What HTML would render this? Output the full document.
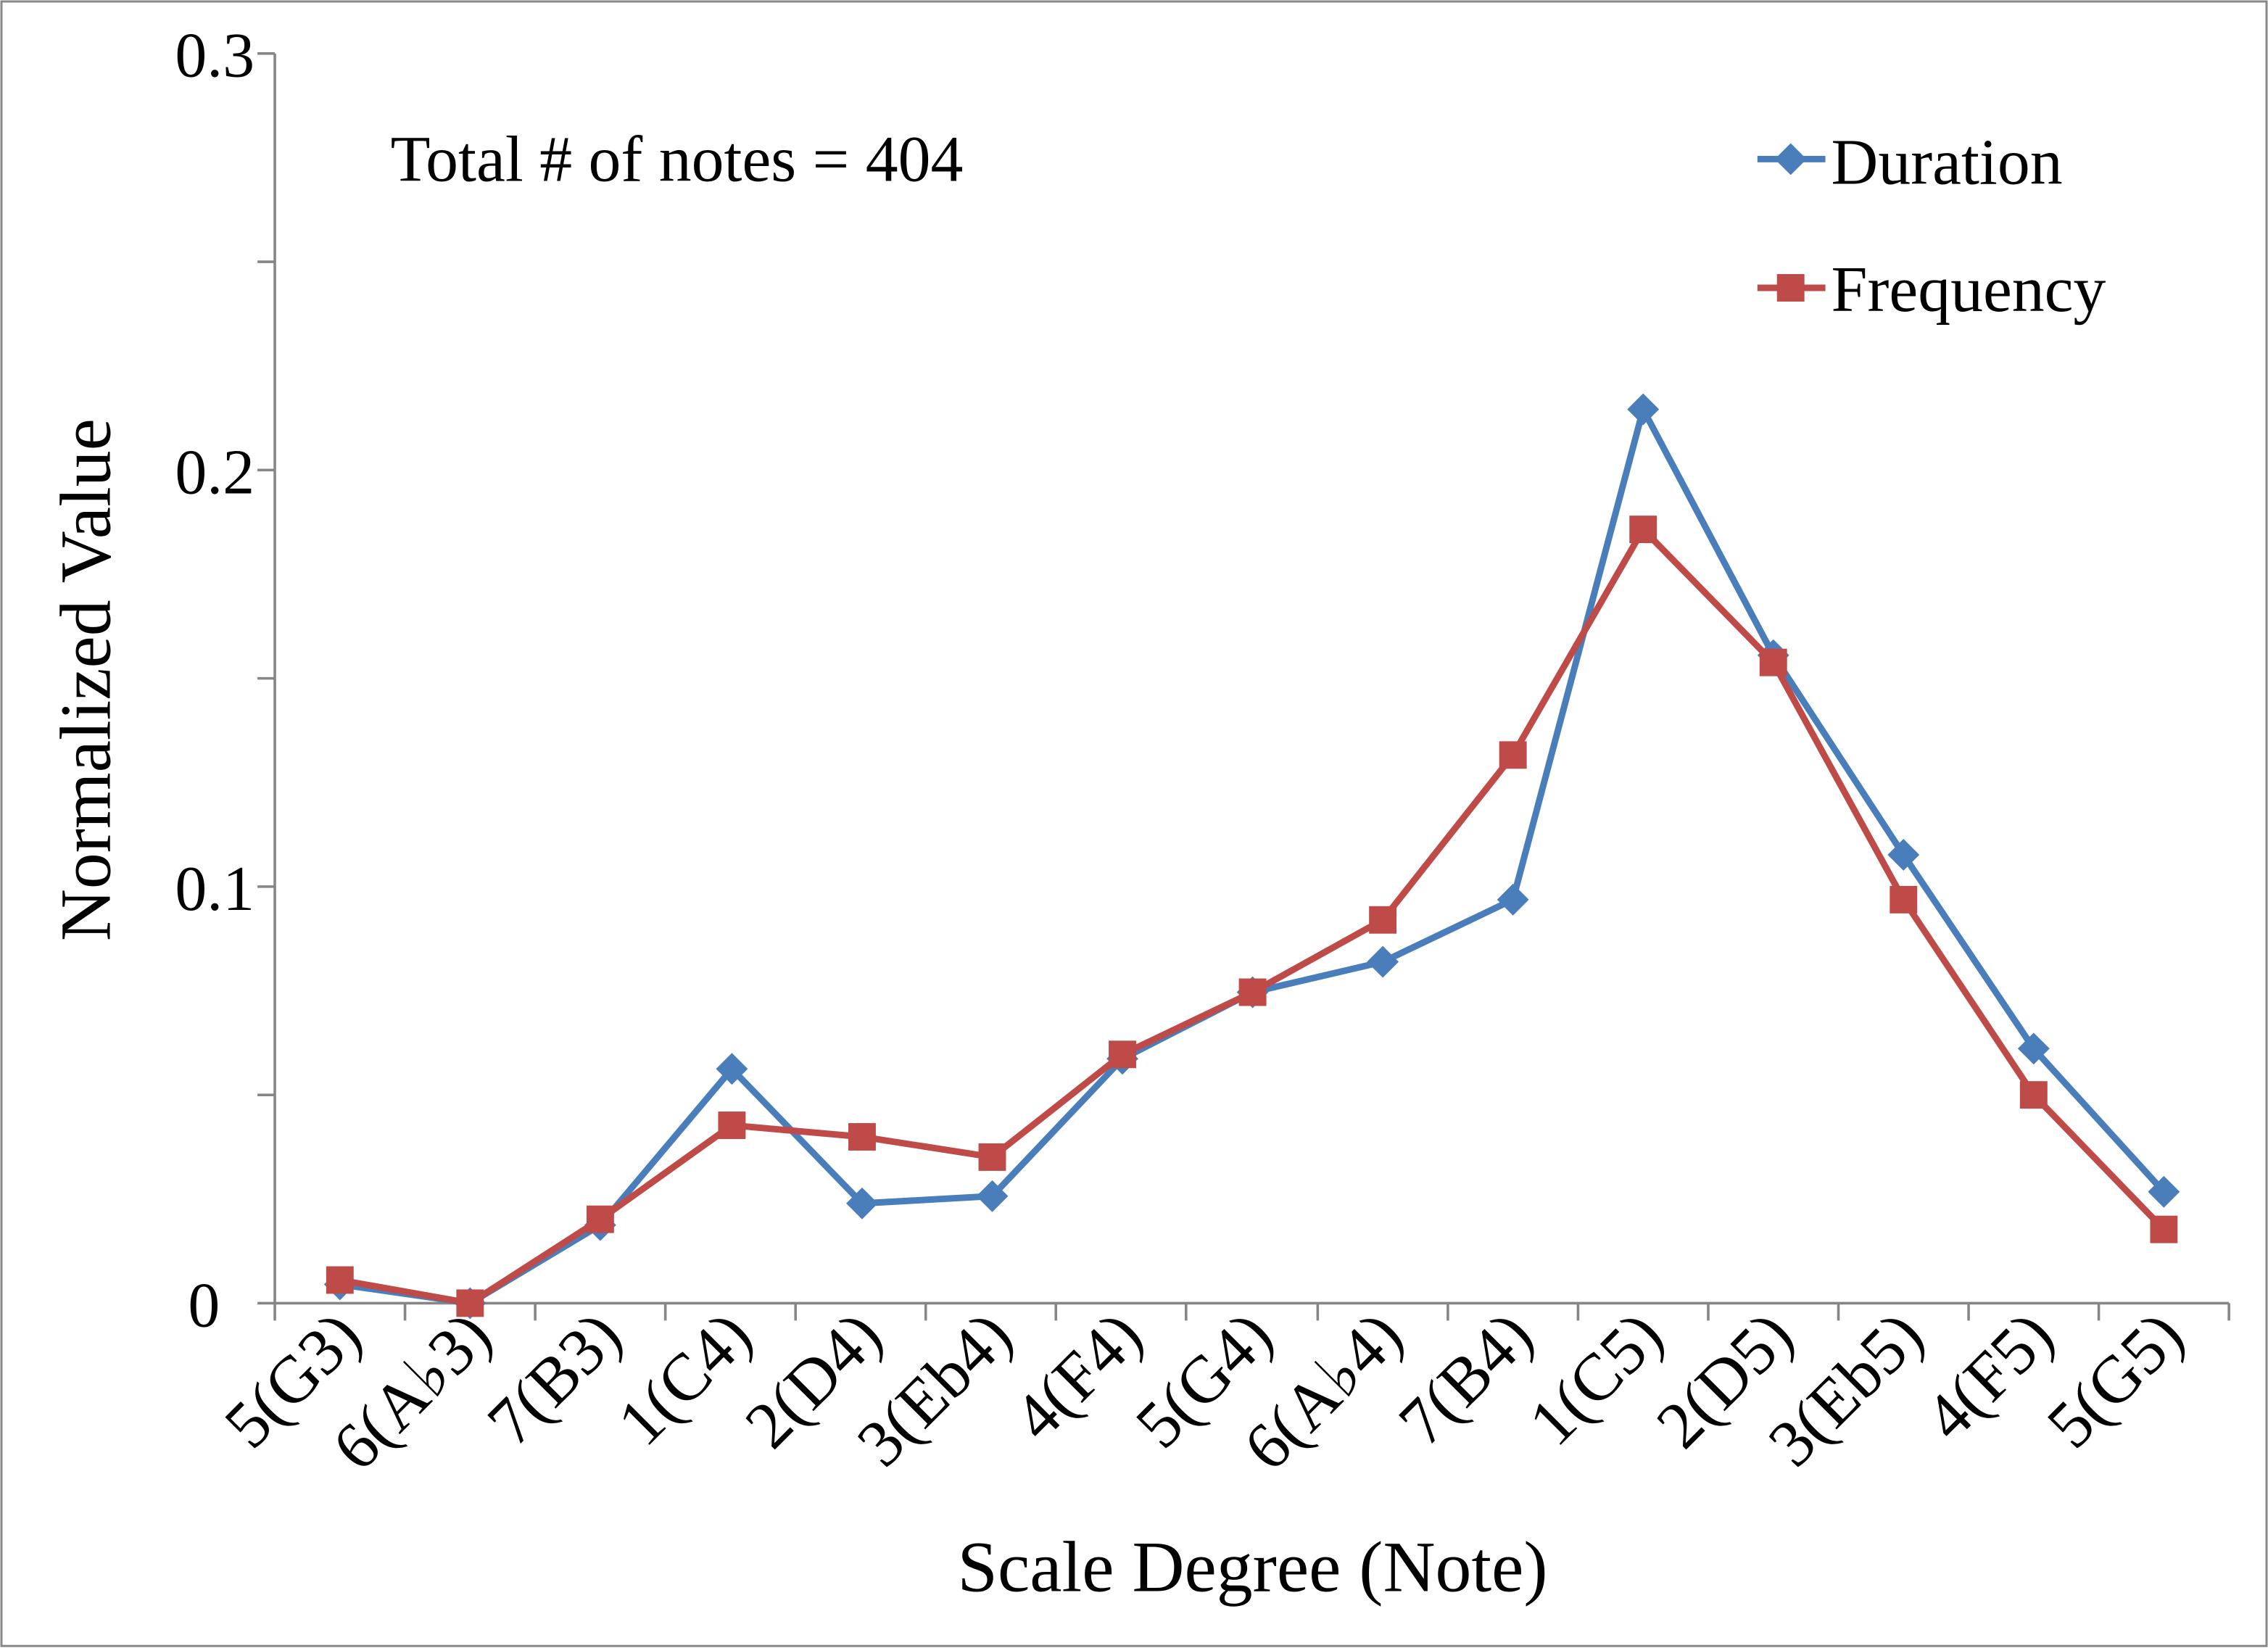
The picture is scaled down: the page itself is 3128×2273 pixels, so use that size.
<!DOCTYPE html>
<html><head><style>html,body{margin:0;padding:0;background:#fff}svg{display:block}</style></head><body>
<svg width="3128" height="2273" viewBox="0 0 1568 1139.4" xmlns="http://www.w3.org/2000/svg" font-family="Liberation Serif, serif">
<rect x="1" y="1" width="1566" height="1137" fill="#fff" stroke="#888" stroke-width="1.5"/>
<g stroke="#868686" stroke-width="1.8" fill="none">
<line x1="190" y1="37" x2="190" y2="901"/>
<line x1="178" y1="901" x2="1541" y2="901"/>
<line x1="178" y1="37" x2="190" y2="37"/>
<line x1="178" y1="181" x2="190" y2="181"/>
<line x1="178" y1="325" x2="190" y2="325"/>
<line x1="178" y1="469" x2="190" y2="469"/>
<line x1="178" y1="613" x2="190" y2="613"/>
<line x1="178" y1="757" x2="190" y2="757"/>
<path d="M190 901v12M280 901v12M370 901v12M460 901v12M550 901v12M640 901v12M730 901v12M820 901v12M911 901v12M1001 901v12M1091 901v12M1181 901v12M1271 901v12M1361 901v12M1451 901v12M1541 901v12"/>
</g>
<g font-size="44" text-anchor="end">
<text x="176" y="53">0.3</text><text x="176" y="341">0.2</text><text x="176" y="629">0.1</text><text x="152" y="917">0</text>
</g>
<text transform="translate(76,470) rotate(-90)" font-size="50" text-anchor="middle">Normalized Value</text>
<text x="866" y="1100" font-size="50" text-anchor="middle">Scale Degree (Note)</text>
<text x="270" y="125" font-size="45">Total # of notes = 404</text>
<g font-size="46" text-anchor="end">
<text transform="translate(252,926) rotate(-45)">5(G3)</text>
<text transform="translate(342,926) rotate(-45)">6(A♭3)</text>
<text transform="translate(432,926) rotate(-45)">7(B3)</text>
<text transform="translate(522,926) rotate(-45)">1(C4)</text>
<text transform="translate(612,926) rotate(-45)">2(D4)</text>
<text transform="translate(702,926) rotate(-45)">3(Eb4)</text>
<text transform="translate(792,926) rotate(-45)">4(F4)</text>
<text transform="translate(882,926) rotate(-45)">5(G4)</text>
<text transform="translate(972,926) rotate(-45)">6(A♭4)</text>
<text transform="translate(1062,926) rotate(-45)">7(B4)</text>
<text transform="translate(1152,926) rotate(-45)">1(C5)</text>
<text transform="translate(1242,926) rotate(-45)">2(D5)</text>
<text transform="translate(1332,926) rotate(-45)">3(Eb5)</text>
<text transform="translate(1422,926) rotate(-45)">4(F5)</text>
<text transform="translate(1512,926) rotate(-45)">5(G5)</text>
</g>
<defs>
<path id="d" d="M0 -11L11 0L0 11L-11 0Z" fill="#4a7ebb"/>
<rect id="s" x="-9.5" y="-9.5" width="19" height="19" fill="#be4b48"/>
</defs>
<polyline fill="none" stroke="#4a7ebb" stroke-width="4.5" points="235,888 325,901 415,847 506,739 596,832 686,827 776,732 866,686 956,665 1046,622 1136,283 1226,453 1316,591 1406,725 1496,824"/>
<g>
<use href="#d" x="235" y="888"/><use href="#d" x="325" y="901"/><use href="#d" x="415" y="847"/><use href="#d" x="506" y="739"/><use href="#d" x="596" y="832"/><use href="#d" x="686" y="827"/><use href="#d" x="776" y="732"/><use href="#d" x="866" y="686"/><use href="#d" x="956" y="665"/><use href="#d" x="1046" y="622"/><use href="#d" x="1136" y="283"/><use href="#d" x="1226" y="453"/><use href="#d" x="1316" y="591"/><use href="#d" x="1406" y="725"/><use href="#d" x="1496" y="824"/>
</g>
<polyline fill="none" stroke="#be4b48" stroke-width="4.5" points="235,885 325,901 415,843 506,778 596,786 686,800 776,729 866,686 956,636 1046,522 1136,366 1226,458 1316,622 1406,757 1496,850"/>
<g>
<use href="#s" x="235" y="885"/><use href="#s" x="325" y="901"/><use href="#s" x="415" y="843"/><use href="#s" x="506" y="778"/><use href="#s" x="596" y="786"/><use href="#s" x="686" y="800"/><use href="#s" x="776" y="729"/><use href="#s" x="866" y="686"/><use href="#s" x="956" y="636"/><use href="#s" x="1046" y="522"/><use href="#s" x="1136" y="366"/><use href="#s" x="1226" y="458"/><use href="#s" x="1316" y="622"/><use href="#s" x="1406" y="757"/><use href="#s" x="1496" y="850"/>
</g>
<line x1="1215" y1="110" x2="1262" y2="110" stroke="#4a7ebb" stroke-width="4.5"/>
<use href="#d" x="1238" y="110"/>
<text x="1266" y="127" font-size="45">Duration</text>
<line x1="1215" y1="199" x2="1262" y2="199" stroke="#be4b48" stroke-width="4.5"/>
<use href="#s" x="1238" y="199"/>
<text x="1266" y="215" font-size="45">Frequency</text>
</svg>
</body></html>
